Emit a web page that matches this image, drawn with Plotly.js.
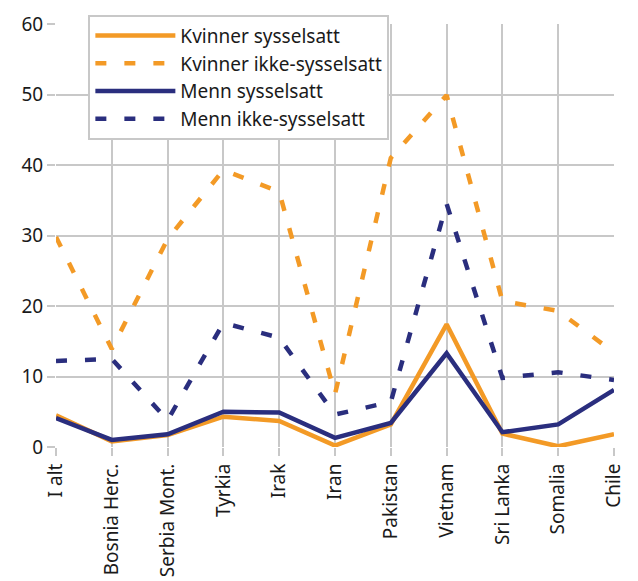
<!DOCTYPE html>
<html>
<head>
<meta charset="utf-8">
<script src="https://cdn.plot.ly/plotly-3.0.1.min.js"></script>
<style>
html,body{margin:0;padding:0;background:#fff;}
#chart{width:638px;height:581px;}
</style>
</head>
<body>
<div id="chart"></div>
<script>
const categories = ["I alt","Bosnia Herc.","Serbia Mont.","Tyrkia","Irak","Iran","Pakistan","Vietnam","Sri Lanka","Somalia","Chile"];
const kvinnerSysselsatt = [4.5, 0.8, 1.7, 4.3, 3.7, 0.2, 3.2, 17.4, 1.9, 0.1, 1.8];
const kvinnerIkkeSysselsatt = [29.8, 13.9, 29.5, 39.3, 36.2, 7.5, 41.0, 49.9, 20.7, 19.3, 13.4];
const mennSysselsatt = [4.1, 1.0, 1.8, 5.0, 4.9, 1.3, 3.4, 13.3, 2.1, 3.2, 8.1];
const mennIkkeSysselsatt = [12.2, 12.5, 3.8, 17.6, 15.5, 4.6, 6.4, 34.5, 9.8, 10.6, 9.5];
const yTicks = [0, 10, 20, 30, 40, 50, 60];

const orange = '#F39A26';
const navy = '#2A2E7E';
const fontFam = '"Noto Sans", "Open Sans", sans-serif';

const traces = [
  {x: categories, y: kvinnerSysselsatt, name: 'Kvinner sysselsatt', type: 'scatter', mode: 'lines',
   line: {color: orange, width: 4.5}},
  {x: categories, y: kvinnerIkkeSysselsatt, name: 'Kvinner ikke-sysselsatt', type: 'scatter', mode: 'lines',
   line: {color: orange, width: 4.5, dash: '11px,18px'}},
  {x: categories, y: mennSysselsatt, name: 'Menn sysselsatt', type: 'scatter', mode: 'lines',
   line: {color: navy, width: 4.5}},
  {x: categories, y: mennIkkeSysselsatt, name: 'Menn ikke-sysselsatt', type: 'scatter', mode: 'lines',
   line: {color: navy, width: 4.5, dash: '11px,18px'}}
];

const layout = {
  width: 638, height: 581,
  margin: {l: 56, r: 24, t: 24, b: 134},
  paper_bgcolor: '#fff', plot_bgcolor: '#fff',
  font: {family: fontFam, size: 19, color: '#1a1a1a'},
  showlegend: true,
  legend: {
    x: 0.058, y: 1.022, xanchor: 'left', yanchor: 'top',
    bgcolor: '#fff', bordercolor: '#c8c8c8', borderwidth: 2,
    font: {family: fontFam, size: 19, color: '#1a1a1a'},
    itemwidth: 80, tracegroupgap: 0
  },
  xaxis: {
    type: 'category', range: [0, 10], fixedrange: true,
    showgrid: true, gridcolor: '#c8c8c8', gridwidth: 2,
    ticks: 'outside', ticklen: 8, tickwidth: 2, tickcolor: '#c8c8c8',
    tickangle: -90, tickfont: {family: fontFam, size: 19, color: '#1a1a1a'},
    showline: false, zeroline: false
  },
  yaxis: {
    range: [0, 60], tickvals: yTicks, fixedrange: true,
    showgrid: true, gridcolor: '#c8c8c8', gridwidth: 2,
    ticks: 'outside', ticklen: 8, tickwidth: 2, tickcolor: '#c8c8c8',
    tickfont: {family: fontFam, size: 19, color: '#1a1a1a'},
    showline: false, zeroline: false
  },
  hovermode: false
};

Plotly.newPlot('chart', traces, layout, {displayModeBar: false, staticPlot: true});
</script>
</body>
</html>
